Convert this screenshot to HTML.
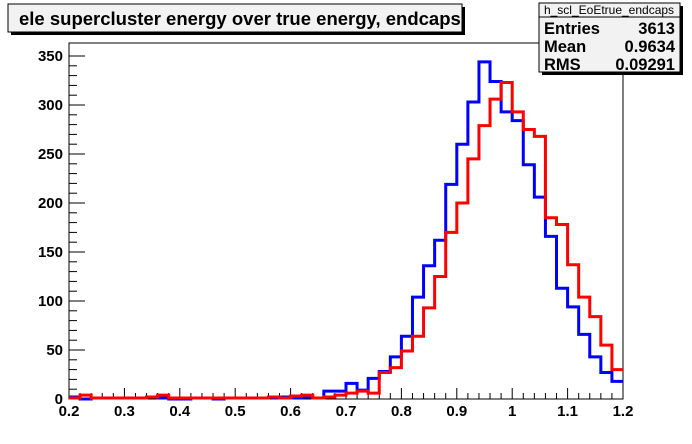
<!DOCTYPE html>
<html><head><meta charset="utf-8"><style>
html,body{margin:0;padding:0;background:#fff;}
svg{display:block;font-family:"Liberation Sans",Arial,sans-serif;}
</style></head><body>
<svg id="c" width="692" height="444" viewBox="0 0 692 444" xmlns="http://www.w3.org/2000/svg">
<rect x="0" y="0" width="692" height="444" fill="#ffffff"/>
<g>
<rect x="11" y="7" width="454" height="28" fill="#000"/>
<rect x="8" y="4" width="454" height="28" fill="#f2f2f2" stroke="#000" stroke-width="1"/>
<text x="19" y="25" font-size="18.5" font-weight="bold" fill="#000">ele supercluster energy over true energy, endcaps</text>
</g>
<rect x="69" y="43" width="554" height="356" fill="#fff" stroke="#000" stroke-width="1"/>
<g id="axes"></g>
<g id="series"></g>
<g>
<rect x="542" y="6" width="141" height="69" fill="#000"/>
<rect x="539" y="3" width="141" height="69" fill="#f2f2f2" stroke="#000" stroke-width="1"/>
<line x1="539" y1="17" x2="680" y2="17" stroke="#000" stroke-width="1"/>
<text x="609" y="14" font-size="12" text-anchor="middle">h_scl_EoEtrue_endcaps</text>
<text x="544" y="34" font-size="16.5" font-weight="bold">Entries</text>
<text x="675" y="34" font-size="16.5" font-weight="bold" text-anchor="end">3613</text>
<text x="544" y="52" font-size="16.5" font-weight="bold">Mean</text>
<text x="675" y="52" font-size="16.5" font-weight="bold" text-anchor="end">0.9634</text>
<text x="544" y="70" font-size="16.5" font-weight="bold">RMS</text>
<text x="675" y="70" font-size="16.5" font-weight="bold" text-anchor="end">0.09291</text>
</g>
</svg>
<script>
const xMin = 0.2, xMax = 1.2, binWidth = 0.02;
const yMax = 350;
const xTickLabels = ["0.2","0.3","0.4","0.5","0.6","0.7","0.8","0.9","1","1.1","1.2"];
const yTickLabels = ["0","50","100","150","200","250","300","350"];
const blueCounts = [2,0,1,1,1,1,1,2,1,0, 0,1,1,0,1,1,1,1,1,2, 1,2,1,8,8,16,9,21,28,43, 64,104,136,162,219,260,303,344,324,293, 284,239,206,166,113,94,66,43,27,18];
const redCounts = [1,4,1,1,1,1,1,2,4,1, 1,1,1,1,1,1,1,1,2,1, 3,4,1,2,4,6,8,6,27,32, 49,64,93,125,170,200,245,279,306,323, 293,275,268,185,178,137,104,84,55,30];

const L=69,R=623,T=43,B=399;
const NS="http://www.w3.org/2000/svg";
function xs(v){return L+(v-xMin)/(xMax-xMin)*(R-L);}
function ys(v){return B-v/yMax*(B-56);}
function mk(tag,attrs,parent){const e=document.createElementNS(NS,tag);for(const k in attrs)e.setAttribute(k,attrs[k]);parent.appendChild(e);return e;}
const axes=document.getElementById('axes');
for(let i=0;i<=50;i++){
  const v=xMin+i*binWidth, x=xs(v);
  const len=(i%5===0)?11:6;
  const t=mk('line',{x1:x,y1:B,x2:x,y2:B-len,stroke:'#000','stroke-width':1},axes);
  
  
}
xTickLabels.forEach(s=>{
  const tx=mk('text',{x:xs(parseFloat(s)),y:416,'font-size':15,'font-weight':'bold','text-anchor':'middle'},axes);
  tx.textContent=s;
  
  
});
for(let v=0;v<=yMax;v+=10){
  const y=ys(v), len=(v%50===0)?16:8;
  const t=mk('line',{x1:L,y1:y,x2:L+len,y2:y,stroke:'#000','stroke-width':1},axes);
  
  
}
yTickLabels.forEach(s=>{
  const tx=mk('text',{x:63,y:ys(parseFloat(s))+5,'font-size':15,'font-weight':'bold','text-anchor':'end'},axes);
  tx.textContent=s;
  
  
});
function stepPath(counts){
  let d='M'+xs(xMin)+','+ys(counts[0]);
  counts.forEach((c,i)=>{
    const x0=xs(xMin+i*binWidth), x1=xs(xMin+(i+1)*binWidth), y=ys(c);
    d+=' L'+x0+','+y+' L'+x1+','+y;
  });
  return d;
}
const series=document.getElementById('series');
const pb=mk('path',{d:stepPath(blueCounts),fill:'none',stroke:'#0000ff','stroke-width':3},series);


const pr=mk('path',{d:stepPath(redCounts),fill:'none',stroke:'#ff0000','stroke-width':3},series);


</script>
</body></html>
